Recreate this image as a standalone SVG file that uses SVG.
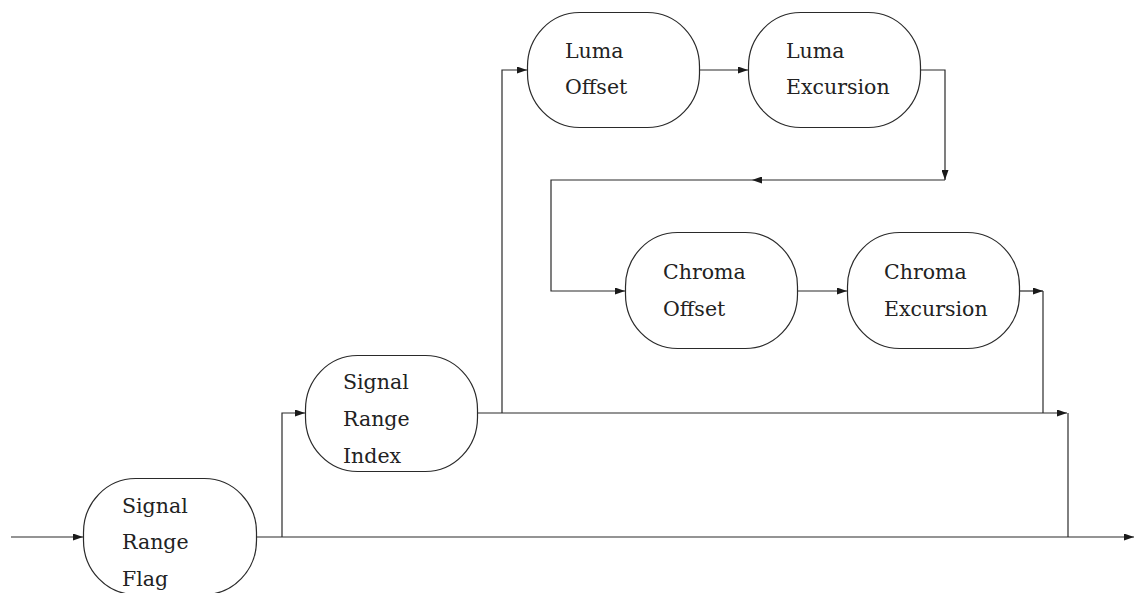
<svg xmlns="http://www.w3.org/2000/svg" width="1135" height="593" viewBox="0 0 1135 593">
<style>
.node{fill:#fff;stroke:#2a2a2a;stroke-width:1.2}
.lbl{font-family:"DejaVu Serif","Liberation Serif",serif;font-size:20.5px;fill:#222}
.conn path{fill:none;stroke:#2a2a2a;stroke-width:1.2}
</style>
<defs>
<marker id="arr" markerUnits="userSpaceOnUse" markerWidth="10" markerHeight="7" refX="10" refY="3.5" orient="auto">
<path d="M0,0 L10,3.5 L0,7 z" fill="#1a1a1a"/>
</marker>
</defs>
<rect width="1135" height="593" fill="#fff"/>
<g id="connectors" class="conn">
<path d="M11,537 H83" marker-end="url(#arr)"/>
<path d="M257,537 H1134" marker-end="url(#arr)"/>
<path d="M282,537 V413 H305" marker-end="url(#arr)"/>
<path d="M477,413 H1067" marker-end="url(#arr)"/>
<path d="M1068,413 V537"/>
<path d="M502,413 V70 H527" marker-end="url(#arr)"/>
<path d="M699,70 H748" marker-end="url(#arr)"/>
<path d="M920,70 H945 V180" marker-end="url(#arr)"/>
<path d="M945,180 H752" marker-end="url(#arr)"/>
<path d="M752,180 H551 V291 H625" marker-end="url(#arr)"/>
<path d="M797,291 H847" marker-end="url(#arr)"/>
<path d="M1019,291 H1043" marker-end="url(#arr)"/>
<path d="M1043,291 V413"/>
</g>
<g id="signal-range-flag">
<rect class="node" x="83.5" y="478.5" width="173" height="116" rx="52" ry="54"/>
<text class="lbl" x="122" y="512.5">Signal</text>
<text class="lbl" x="122" y="549">Range</text>
<text class="lbl" x="122" y="585.5">Flag</text>
</g>
<g id="signal-range-index">
<rect class="node" x="305.5" y="355.5" width="172" height="116" rx="52" ry="54"/>
<text class="lbl" x="343" y="389">Signal</text>
<text class="lbl" x="343" y="426">Range</text>
<text class="lbl" x="343" y="463">Index</text>
</g>
<g id="luma-offset">
<rect class="node" x="527.5" y="12.5" width="172" height="115" rx="52" ry="54"/>
<text class="lbl" x="565" y="57.5">Luma</text>
<text class="lbl" x="565" y="94">Offset</text>
</g>
<g id="luma-excursion">
<rect class="node" x="748.5" y="12.5" width="172" height="115" rx="52" ry="54"/>
<text class="lbl" x="786" y="57.5">Luma</text>
<text class="lbl" x="786" y="94">Excursion</text>
</g>
<g id="chroma-offset">
<rect class="node" x="625.5" y="232.5" width="172" height="116" rx="52" ry="54"/>
<text class="lbl" x="663" y="279">Chroma</text>
<text class="lbl" x="663" y="316">Offset</text>
</g>
<g id="chroma-excursion">
<rect class="node" x="847.5" y="232.5" width="172" height="116" rx="52" ry="54"/>
<text class="lbl" x="884" y="279">Chroma</text>
<text class="lbl" x="884" y="316">Excursion</text>
</g>
</svg>
